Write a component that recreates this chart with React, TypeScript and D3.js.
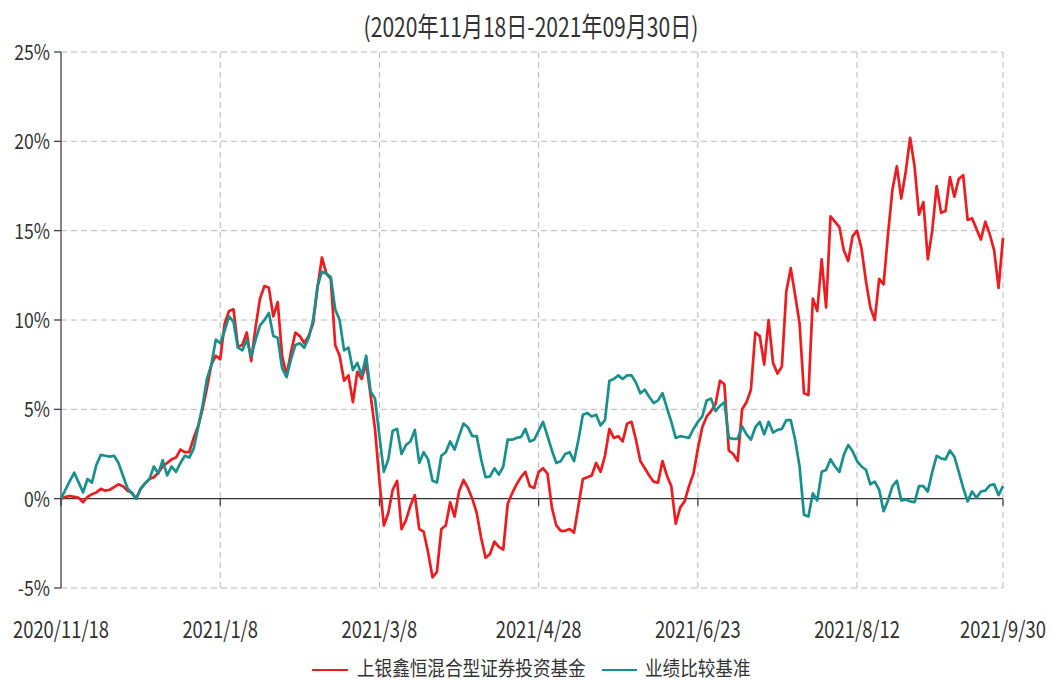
import * as d3 from "d3";

const titleText = "(2020年11月18日-2021年09月30日)";
const fundName = "上银鑫恒混合型证券投资基金";
const benchName = "业绩比较基准";

// trading-day index of each labelled date
const xTickIndex = [0, 36, 72, 108, 144, 180, 213];
const xTickLabels = ["2020/11/18", "2021/1/8", "2021/3/8", "2021/4/28", "2021/6/23", "2021/8/12", "2021/9/30"];
const yTicks = [-5, 0, 5, 10, 15, 20, 25];

// cumulative return, %
const fundValues = [
  0, 0.1, 0.15, 0.1, 0.05, -0.2, 0.1, 0.25, 0.35, 0.55,
  0.45, 0.5, 0.65, 0.8, 0.7, 0.45, 0.35, 0.0, 0.55, 0.85,
  1.1, 1.2, 1.45, 1.8, 2.0, 2.2, 2.3, 2.75, 2.6, 2.6,
  3.4, 4.05, 5.0, 6.2, 7.5, 8.0, 7.8, 9.8, 10.5, 10.6,
  8.5, 8.6, 9.3, 7.7, 9.6, 11.2, 11.9, 11.8, 10.2, 11.0,
  8.0, 6.9, 8.2, 9.3, 9.1, 8.7, 9.1, 9.8, 11.8, 13.5,
  12.6, 12.3, 8.6, 8.0, 6.6, 6.9, 5.4, 7.1, 6.7, 7.6,
  5.8, 3.9, 1.0, -1.5, -0.8, 0.5, 1.0, -1.7, -1.2, -0.4,
  0.2, -1.7, -1.85, -3.0, -4.4, -4.1, -1.7, -1.5, -0.2, -1.0,
  0.4, 1.05, 0.6, 0.0, -0.8, -2.2, -3.3, -3.1, -2.4, -2.7,
  -2.85, -0.3, 0.3, 0.8, 1.2, 1.5, 0.7, 0.6, 1.5, 1.7,
  1.4, -0.5, -1.5, -1.8, -1.8, -1.7, -1.9, -0.4, 1.1, 1.2,
  1.3, 2.0, 1.5, 2.4, 3.9, 3.4, 3.5, 3.2, 4.2, 4.3,
  3.3, 2.1, 1.7, 1.3, 0.95, 0.9, 2.1, 1.3, 0.7, -1.4,
  -0.5, -0.15, 0.7, 1.4, 2.8, 4.0, 4.6, 4.9, 5.3, 6.6,
  6.4, 2.7, 2.5, 2.1, 5.0, 5.4, 6.1, 9.3, 9.1, 7.5,
  10.0, 7.6, 7.0, 7.4, 11.6, 12.9, 11.4, 9.8, 5.9, 5.8,
  11.2, 10.5, 13.4, 10.7, 15.8, 15.5, 15.2, 13.9, 13.3, 14.7,
  15.0, 14.0, 12.2, 10.7, 10.0, 12.3, 12.0, 14.8, 17.3, 18.6,
  16.8, 18.3, 20.2, 18.6, 15.9, 16.6, 13.4, 15.0, 17.5, 16.0,
  16.1, 18.0, 16.9, 17.9, 18.1, 15.6, 15.7, 15.1, 14.5, 15.5,
  14.8, 13.9, 11.8, 14.6
];

const benchValues = [
  0, 0.5, 1.0, 1.45, 0.9, 0.35, 1.1, 0.9, 1.9, 2.45,
  2.4, 2.35, 2.4, 2.0, 1.3, 0.6, 0.3, 0.0, 0.55, 0.85,
  1.1, 1.8, 1.4, 2.15, 1.3, 1.8, 1.5, 2.0, 2.4, 2.3,
  2.8, 4.0, 5.2, 6.7, 7.5, 8.9, 8.7, 9.4, 10.2, 9.9,
  8.45, 8.3, 8.9, 7.96, 8.9, 9.7, 10.0, 10.4, 9.1, 9.0,
  7.3, 6.8, 7.8, 8.6, 8.7, 8.45, 9.0, 10.0, 11.9, 12.7,
  12.6, 12.4, 10.6, 10.0, 8.3, 8.45, 7.2, 7.6, 6.9, 8.0,
  6.0, 5.6, 3.5, 1.5, 2.2, 3.8, 3.9, 2.5, 3.0, 3.2,
  3.85, 2.0, 2.6, 2.2, 1.0, 0.9, 2.4, 2.6, 3.2, 2.75,
  3.5, 4.2, 4.0, 3.5, 3.5, 2.2, 1.2, 1.25, 1.7, 1.35,
  1.8, 3.3, 3.3, 3.4, 3.45, 3.9, 3.2, 3.3, 3.8, 4.3,
  3.5, 2.7, 2.0, 2.1, 2.5, 2.6, 2.1, 3.3, 4.7, 4.8,
  4.6, 4.7, 4.1, 4.4, 6.6, 6.7, 6.9, 6.7, 6.9, 6.9,
  6.5, 5.9, 6.1, 5.7, 5.35, 5.5, 5.9, 5.1, 4.3, 3.4,
  3.5, 3.45, 3.4, 3.9, 4.3, 4.6, 5.5, 5.6, 4.9, 5.2,
  5.4, 3.4, 3.35, 3.35, 4.05, 3.6, 3.3, 4.0, 4.3, 3.6,
  4.3, 3.7, 3.85, 3.9, 4.4, 4.4, 3.3, 1.8, -0.9, -1.0,
  0.3, -0.1, 1.5, 1.6, 2.2, 1.8, 1.5, 2.45, 3.0, 2.65,
  2.1, 1.8, 1.62, 0.8, 0.95, 0.5, -0.7, -0.1, 0.7, 1.0,
  -0.1, -0.05, -0.15, -0.2, 0.7, 0.7, 0.4, 1.5, 2.4, 2.25,
  2.2, 2.7, 2.35, 1.5, 0.6, -0.15, 0.4, 0.05, 0.4, 0.45,
  0.75, 0.8, 0.2, 0.7
];

const FONT = "'Noto Sans CJK SC', 'Noto Sans', sans-serif";
const RED = "#ee1b1f";
const TEAL = "#17908e";

function SqText({ x, y, size, sx, anchor = "start", fill = "#333", children }: any) {
  return (
    <text
      transform={`translate(${x},${y}) scale(${sx},1)`}
      fontSize={size}
      fontFamily={FONT}
      textAnchor={anchor}
      fill={fill}
    >
      {children}
    </text>
  );
}

export default function App() {
  const width = 1051;
  const height = 682;
  const left = 61;
  const right = 1003;
  const top = 52;
  const bottom = 588;

  const x = d3.scaleLinear().domain([0, fundValues.length - 1]).range([left, right]);
  const y = d3.scaleLinear().domain([-5, 25]).range([bottom, top]);

  const line = d3
    .line<number>()
    .x((_, i) => x(i))
    .y((d) => y(d));

  return (
    <svg
      width={width}
      height={height}
      viewBox={`0 0 ${width} ${height}`}
      style={{ position: "absolute", left: 0, top: 0, background: "#fff" }}
    >
      <SqText x={531} y={37} size={27} sx={0.78} anchor="middle">
        {titleText}
      </SqText>

      {/* horizontal grid */}
      {yTicks
        .filter((t) => t !== 0)
        .map((t) => (
          <line
            key={"gy" + t}
            x1={left}
            x2={right}
            y1={y(t)}
            y2={y(t)}
            stroke="#b8b8b8"
            strokeWidth={1}
            strokeDasharray="6,4"
          />
        ))}
      {/* vertical grid */}
      {xTickIndex.slice(1).map((t) => (
        <line
          key={"gx" + t}
          x1={x(t)}
          x2={x(t)}
          y1={top}
          y2={bottom}
          stroke="#b8b8b8"
          strokeWidth={1}
          strokeDasharray="6,4"
        />
      ))}

      {/* y axis */}
      <line x1={left} x2={left} y1={top} y2={bottom} stroke="#333" strokeWidth={1.2} />
      {yTicks.map((t) => (
        <g key={"yt" + t}>
          <line x1={left - 7} x2={left} y1={y(t)} y2={y(t)} stroke="#333" strokeWidth={1.2} />
          <SqText x={left - 11} y={y(t) + 8} size={21} sx={0.84} anchor="end">
            {t + "%"}
          </SqText>
        </g>
      ))}

      {/* zero axis */}
      <line x1={left} x2={right} y1={y(0)} y2={y(0)} stroke="#333" strokeWidth={1.2} />
      {xTickIndex.map((t, i) => (
        <g key={"xt" + t}>
          <line x1={x(t)} x2={x(t)} y1={y(0)} y2={y(0) + 7} stroke="#333" strokeWidth={1.2} />
          <SqText x={x(t)} y={638} size={23} sx={0.8} anchor="middle">
            {xTickLabels[i]}
          </SqText>
        </g>
      ))}

      <path d={line(fundValues) ?? ""} fill="none" stroke={RED} strokeWidth={2.7} strokeLinejoin="round" />
      <path d={line(benchValues) ?? ""} fill="none" stroke={TEAL} strokeWidth={2.7} strokeLinejoin="round" />

      {/* legend */}
      <line x1={312} x2={348} y1={670} y2={670} stroke={RED} strokeWidth={2} />
      <SqText x={357} y={676} size={20} sx={0.88}>
        {fundName}
      </SqText>
      <line x1={602} x2={637} y1={670} y2={670} stroke={TEAL} strokeWidth={2} />
      <SqText x={645} y={676} size={20} sx={0.88}>
        {benchName}
      </SqText>
    </svg>
  );
}
